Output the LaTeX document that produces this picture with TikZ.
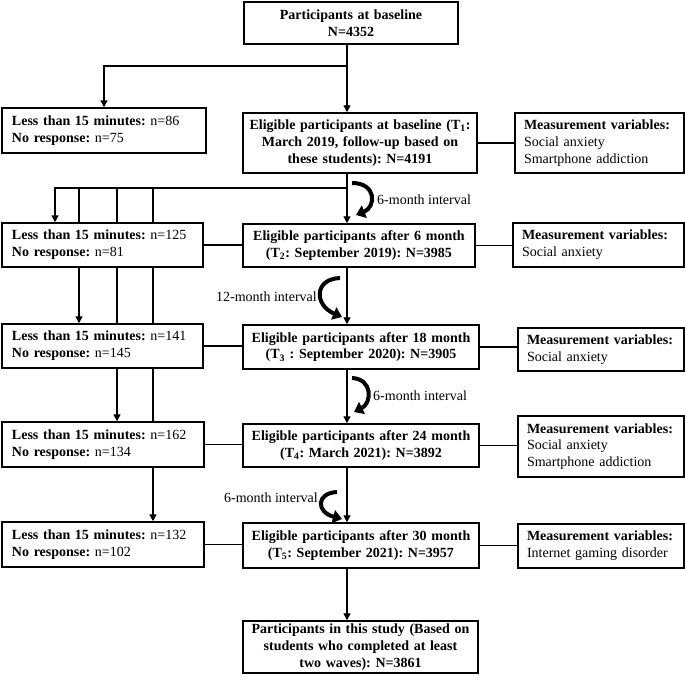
\documentclass[tikz,border=0pt]{standalone}
\usepackage{fontspec}
\setmainfont{Liberation Serif}
\frenchspacing
\usetikzlibrary{arrows.meta,backgrounds}
\tikzset{
  box/.style={draw, line width=1.5pt, fill=white, inner ysep=0pt,
    font=\fontsize{14}{16.8}\selectfont},
  ltbox/.style={box, inner xsep=10pt, align=left},
  tbox/.style={box, inner xsep=6pt, align=center, font=\fontsize{14}{16.8}\selectfont\bfseries},
  mbox/.style={box, inner xsep=9pt, align=left},
  conn/.style={line width=1.4pt},
  arr/.style={conn, -{Triangle[length=7pt,width=7pt]}},
  curv/.style={line width=4pt, -{Triangle[length=9pt,width=13pt]}},
  lbl/.style={font=\fontsize{14}{16.8}\selectfont, inner sep=1pt}
}
\begin{document}
\begin{tikzpicture}[x=1pt,y=-1pt]
\useasboundingbox (0,0) rectangle (685,683);
% main column
\node[tbox, text width=202pt, minimum height=42pt] (top) at (351,23) {Participants at baseline\\N=4352};
\node[tbox, text width=222pt, minimum height=60pt] (T1) at (360,143) {Eligible participants at baseline (T\textsubscript{1}:\\March 2019, follow-up based on\\these students): N=4191};
\node[tbox, text width=220pt, minimum height=43pt] (T2) at (359,245.5) {Eligible participants after 6 month\\(T\textsubscript{2}: September 2019): N=3985};
\node[tbox, text width=224pt, minimum height=44pt] (T3) at (361,347) {Eligible participants after 18 month\\(T\textsubscript{3} : September 2020): N=3905};
\node[tbox, text width=224pt, minimum height=43pt] (T4) at (361,445.5) {Eligible participants after 24 month\\(T\textsubscript{4}: March 2021): N=3892};
\node[tbox, text width=224pt, minimum height=45pt] (T5) at (361,545.5) {Eligible participants after 30 month\\(T\textsubscript{5}: September 2021): N=3957};
\node[tbox, text width=223pt, minimum height=52pt] (B) at (360.5,647) {Participants in this study (Based on\\students who completed at least\\two waves): N=3861};
% left column
\node[ltbox, text width=184pt, minimum height=45pt] (L1) at (104,130.5) {\textbf{Less than 15 minutes:} n=86\\\textbf{No response:} n=75};
\node[ltbox, text width=181pt, minimum height=44pt] (L2) at (102.5,245) {\textbf{Less than 15 minutes:} n=125\\\textbf{No response:} n=81};
\node[ltbox, text width=181pt, minimum height=44pt] (L3) at (102.5,346) {\textbf{Less than 15 minutes:} n=141\\\textbf{No response:} n=145};
\node[ltbox, text width=182pt, minimum height=45pt] (L4) at (103,444.5) {\textbf{Less than 15 minutes:} n=162\\\textbf{No response:} n=134};
\node[ltbox, text width=182pt, minimum height=45pt] (L5) at (103,544.5) {\textbf{Less than 15 minutes:} n=132\\\textbf{No response:} n=102};
% right column
\node[mbox, text width=151pt, minimum height=60pt] (M1) at (599.5,143) {\textbf{Measurement variables:}\\Social anxiety\\Smartphone addiction};
\node[mbox, text width=153pt, minimum height=44pt] (M2) at (598.5,245) {\textbf{Measurement variables:}\\Social anxiety};
\node[mbox, text width=148pt, minimum height=43pt] (M3) at (601,349.5) {\textbf{Measurement variables:}\\Social anxiety};
\node[mbox, text width=148pt, minimum height=61pt] (M4) at (601,446.5) {\textbf{Measurement variables:}\\Social anxiety\\Smartphone addiction};
\node[mbox, text width=148pt, minimum height=44pt] (M5) at (601,546) {\textbf{Measurement variables:}\\Internet gaming disorder};
% coordinates
\coordinate (mx) at (347,0);
\coordinate (b0) at (347,66);
\coordinate (h1) at (347,188);
\coordinate (v1) at (55,188);
\coordinate (v2) at (79,188);
\coordinate (v3) at (117,188);
\coordinate (v4) at (153,188);
% main vertical connectors
\draw[arr] (top.south -| mx) -- (T1.north -| mx);
\draw[arr] (b0) -| (L1.north);
\draw[arr] (T1.south -| mx) -- (T2.north -| mx);
\draw[arr] (T2.south -| mx) -- (T3.north -| mx);
\draw[arr] (T3.south -| mx) -- (T4.north -| mx);
\draw[arr] (T4.south -| mx) -- (T5.north -| mx);
\draw[arr] (T5.south -| mx) -- (B.north -| mx);
% left branches
\draw[arr] (h1) -- (v1) -- (v1 |- L2.north);
\begin{pgfonlayer}{background}
\draw[arr] (v2) -- (v2 |- L3.north);
\draw[arr] (v3) -- (v3 |- L4.north);
\draw[arr] (v4) -- (v4 |- L5.north);
\end{pgfonlayer}
% horizontal connectors
\draw[conn] (L2.east) -- (L2.east -| T2.west);
\draw[conn] (L3.east) -- (L3.east -| T3.west);
\draw[conn] (L4.east) -- (L4.east -| T4.west);
\draw[conn] (L5.east) -- (L5.east -| T5.west);
\draw[conn] (T1.east) -- (T1.east -| M1.west);
\draw[conn] (T2.east) -- (T2.east -| M2.west);
\draw[conn] (T3.east) -- (T3.east -| M3.west);
\draw[conn] (T4.east) -- (T4.east -| M4.west);
\draw[conn] (T5.east) -- (T5.east -| M5.west);
% interval arrows
\coordinate (c1s) at (352,183);
\coordinate (c1e) at (356,215);
\draw[curv] (c1s) .. controls (377,183) and (376,207) .. (c1e);
\node[lbl, anchor=west] (i1) at (376,200) {6-month interval};
\coordinate (c2s) at (340,278);
\coordinate (c2e) at (342,317);
\draw[curv] (c2s) .. controls (314,279) and (314,305) .. (c2e);
\node[lbl, anchor=east] (i2) at (318,297) {12-month interval};
\coordinate (c3s) at (352,378);
\coordinate (c3e) at (354,412);
\draw[curv] (c3s) .. controls (373,379) and (372,403) .. (c3e);
\node[lbl, anchor=west] (i3) at (372,396) {6-month interval};
\coordinate (c4s) at (337,492);
\coordinate (c4e) at (342,519);
\draw[curv] (c4s) .. controls (316,493) and (316,512) .. (c4e);
\node[lbl, anchor=east] (i4) at (319,498) {6-month interval};
\end{tikzpicture}
\end{document}
